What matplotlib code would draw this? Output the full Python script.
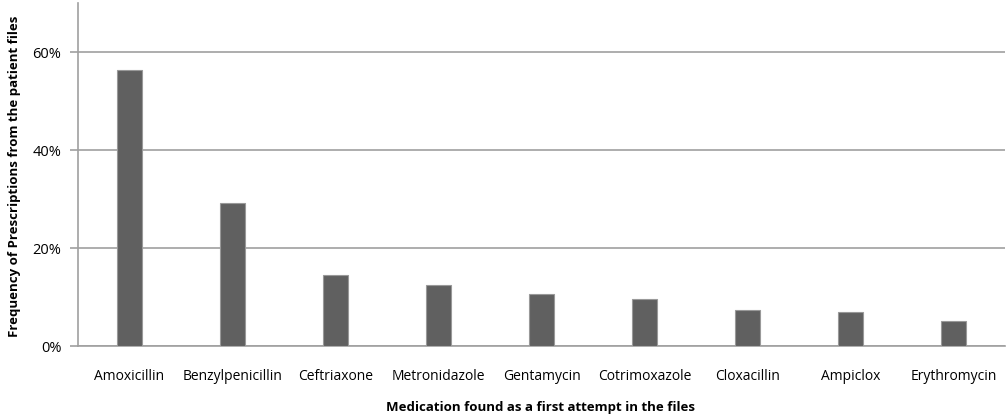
import matplotlib
matplotlib.use("Agg")
import matplotlib.pyplot as plt
from matplotlib.ticker import FixedLocator, FuncFormatter

categories = ["Amoxicillin", "Benzylpenicillin", "Ceftriaxone", "Metronidazole",
              "Gentamycin", "Cotrimoxazole", "Cloxacillin", "Ampiclox", "Erythromycin"]
values = [0.564, 0.292, 0.145, 0.126, 0.106, 0.096, 0.073, 0.070, 0.051]
yticks = [0.0, 0.2, 0.4, 0.6]

plt.rcParams['font.family'] = ['Open Sans', 'DejaVu Sans']

fig = plt.figure(figsize=(10.06, 4.17), dpi=100)
W, H = 1006, 417
left, right, bottom, top = 78, 1005, 346.3, 3
ax = fig.add_axes([left / W, (H - bottom) / H, (right - left) / W, (bottom - top) / H])

x = list(range(len(categories)))
ax.bar(x, values, width=0.25, color='#606060', edgecolor='#999999', linewidth=0.8, zorder=3)

ax.set_xlim(-0.5, len(categories) - 0.5)
ax.set_ylim(0, 0.70)
ax.yaxis.set_major_locator(FixedLocator(yticks))
ax.yaxis.set_major_formatter(FuncFormatter(lambda v, p: f"{v*100:.0f}%"))
ax.grid(axis='y', color='#a0a0a0', linewidth=1.2, zorder=0)

ax.set_xticks(x)
ax.set_xticklabels(categories, fontsize=10)
ax.tick_params(axis='x', length=0, pad=16)
ax.tick_params(axis='y', length=6, color='#a0a0a0', width=1.2, labelsize=10.5, pad=6)

for s in ['top', 'right']:
    ax.spines[s].set_visible(False)
for s in ['left', 'bottom']:
    ax.spines[s].set_color('#a0a0a0')
    ax.spines[s].set_linewidth(1.2)

ax.set_xlabel("Medication found as a first attempt in the files", fontsize=9.5,
              fontweight='bold', va='center')
ax.xaxis.set_label_coords(0.5 + (541 - (left + right) / 2) / (right - left),
                          (bottom - 407) / (bottom - top))
ax.set_ylabel("Frequency of Prescriptions from the patient files", fontsize=9.5,
              fontweight='bold', va='center')
ax.yaxis.set_label_coords((15 - left) / (right - left), (bottom - 176) / (bottom - top))

fig.savefig("out.png", dpi=100)
